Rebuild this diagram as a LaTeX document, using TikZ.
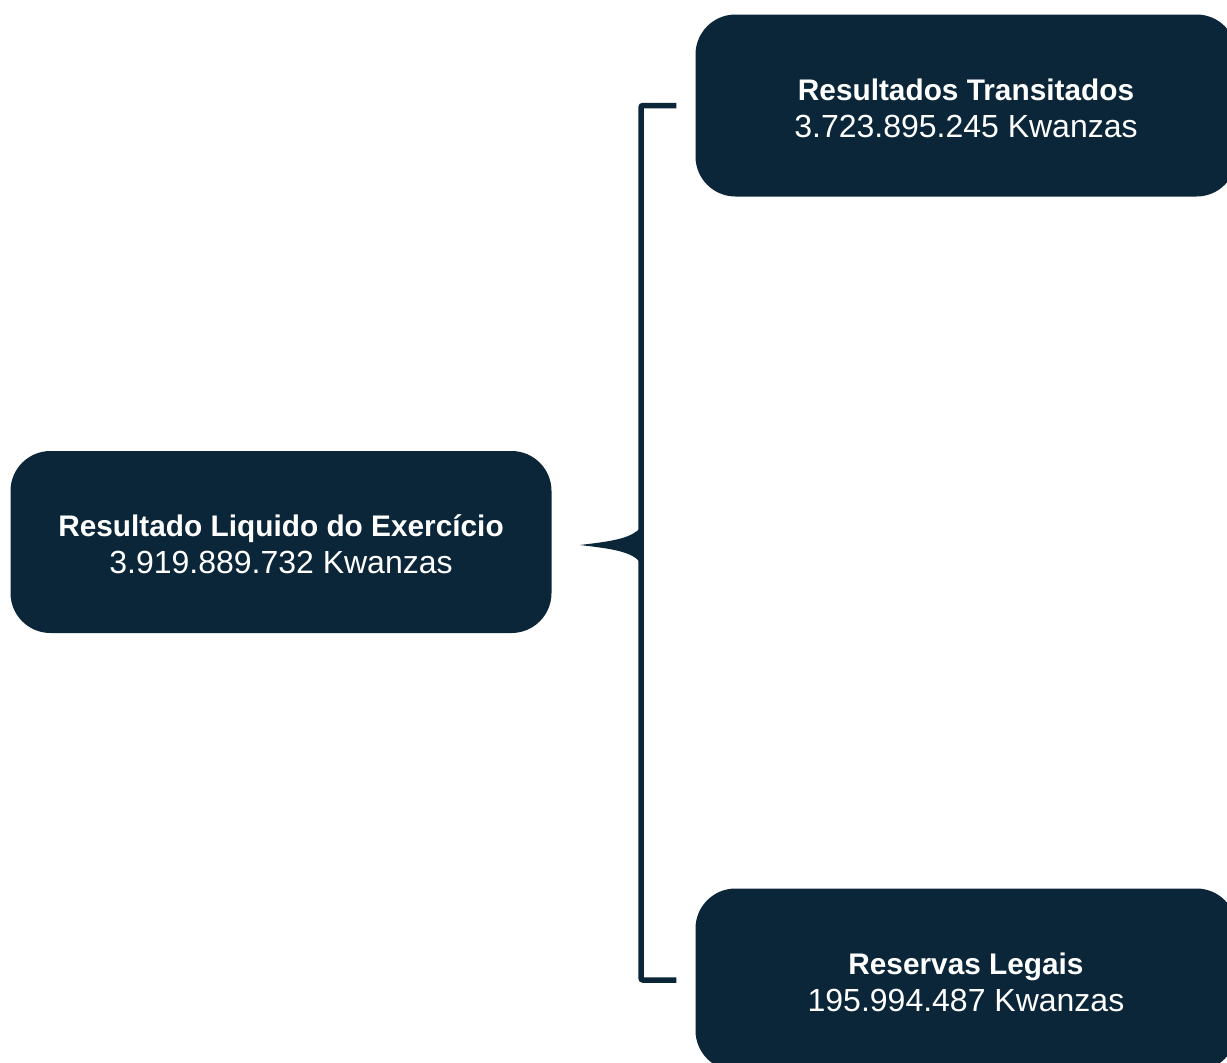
\documentclass[tikz,border=0pt]{standalone}
\usepackage{fontspec}
\setmainfont{Liberation Sans}
\usetikzlibrary{calc}
\definecolor{navy}{RGB}{11,38,57}
\newcommand{\hd}[1]{{\fontsize{29.8}{37}\selectfont\bfseries #1}}
\newcommand{\vl}[1]{{\fontsize{32}{37}\selectfont #1}}
\begin{document}
\begin{tikzpicture}[x=1pt,y=-1pt,
  box/.style={fill=navy, rounded corners=40pt, minimum width=541pt, minimum height=182pt,
    inner sep=0pt},
  boxtext/.style={text=white, align=center, inner sep=0pt, font=\fontsize{32}{37}\selectfont},
  bracket/.style={draw=navy, line width=5.5pt, rounded corners=2pt}]
\useasboundingbox (0,0) rectangle (1227,1063);
\clip (0,0) rectangle (1227,1063);
\node[box] (res) at (281,542) {};
\node[box] (trans) at (966,105.5) {};
\node[box] (leg) at (966,979.5) {};
\node[boxtext] (rest) at ($(res.center)+(0,2.5)$) {\hd{Resultado Liquido do Exercício}\\\vl{3.919.889.732 Kwanzas}};
\node[boxtext] (transt) at ($(trans.center)+(0,2.5)$) {\hd{Resultados Transitados}\\\vl{3.723.895.245 Kwanzas}};
\node[boxtext] (legt) at ($(leg.center)+(0,2.5)$) {\hd{Reservas Legais}\\\vl{195.994.487 Kwanzas}};
\coordinate (ta) at ($(trans.west)+(-19,0)$);
\coordinate (la) at ($(leg.west)+(-19,0.5)$);
\coordinate (tip) at ($(res.east)+(28,3)$);
\draw[bracket] (ta) -- (ta -| 641,0) -- (la -| 641,0) -- (la);
\fill[navy] (tip) .. controls (615,541) and (632,538) .. (641,527)
  -- (641,563) .. controls (632,552) and (615,549) .. (tip) -- cycle;
\end{tikzpicture}
\end{document}
